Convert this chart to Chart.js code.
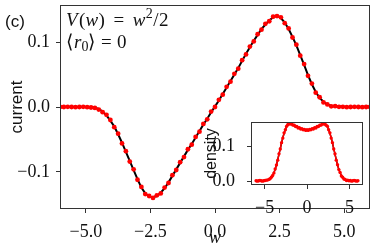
<!DOCTYPE html>
<html>
<head>
<meta charset="utf-8">
<script src="https://cdn.jsdelivr.net/npm/chart.js@4.4.0/dist/chart.umd.min.js"></script>
<style>
  body { margin: 0; background: #fff; }
  #quadro { position: relative; width: 374px; height: 249px; }
  #principal { position: absolute; left: 0; top: 0; }
  #inset { position: absolute; left: 200px; top: 115px; }
</style>
</head>
<body>
<div id="quadro">
  <canvas id="principal" width="374" height="249"></canvas>
  <canvas id="inset" width="172" height="100"></canvas>
</div>
<script>
// posicoes w (mesma grade para corrente e densidade)
const wGrade = [
  -6, -5.85, -5.7, -5.55, -5.4, -5.25, -5.1, -4.95, -4.8, -4.65,
  -4.5, -4.35, -4.2, -4.05, -3.9, -3.75, -3.6, -3.45, -3.3, -3.15,
  -3, -2.85, -2.7, -2.55, -2.4, -2.25, -2.1, -1.95, -1.8, -1.65,
  -1.5, -1.35, -1.2, -1.05, -0.9, -0.75, -0.6, -0.45, -0.3, -0.15,
  0, 0.15, 0.3, 0.45, 0.6, 0.75, 0.9, 1.05, 1.2, 1.35,
  1.5, 1.65, 1.8, 1.95, 2.1, 2.25, 2.4, 2.55, 2.7, 2.85,
  3, 3.15, 3.3, 3.45, 3.6, 3.75, 3.9, 4.05, 4.2, 4.35,
  4.5, 4.65, 4.8, 4.95, 5.1, 5.25, 5.4, 5.55, 5.7, 5.85, 6
];

// corrente: curva teorica (linha preta)
const correnteTeoria = [
  0, 0, 0, 0, 0, 0, 0, 0, -0.0005, -0.001,
  -0.003, -0.007, -0.013, -0.021, -0.030, -0.042, -0.055, -0.069, -0.083, -0.097,
  -0.111, -0.124, -0.133, -0.138, -0.139, -0.137, -0.132, -0.125, -0.116, -0.106,
  -0.096, -0.086, -0.076, -0.066, -0.057, -0.047, -0.037, -0.027, -0.018, -0.008,
  0.001, 0.010, 0.020, 0.030, 0.040, 0.050, 0.060, 0.071, 0.082, 0.092,
  0.102, 0.111, 0.120, 0.127, 0.133, 0.138, 0.141, 0.137, 0.130, 0.120,
  0.108, 0.095, 0.080, 0.065, 0.049, 0.035, 0.023, 0.014, 0.008, 0.004,
  0.002, 0.001, 0.0005, 0, 0, 0, 0, 0, 0, 0, 0
];

// corrente: simulacao (pontos vermelhos)
const correnteSimul = [
  0, 0, 0.0003, 0, -0.0002, 0, 0.0002, -0.0003, -0.0008, -0.0015,
  -0.004, -0.008, -0.012, -0.020, -0.031, -0.041, -0.056, -0.068, -0.084, -0.096,
  -0.112, -0.123, -0.134, -0.137, -0.140, -0.136, -0.133, -0.124, -0.117, -0.105,
  -0.097, -0.085, -0.077, -0.065, -0.058, -0.046, -0.038, -0.026, -0.019, -0.007,
  0.000, 0.011, 0.019, 0.031, 0.039, 0.051, 0.059, 0.072, 0.081, 0.093,
  0.101, 0.112, 0.119, 0.128, 0.132, 0.139, 0.140, 0.138, 0.129, 0.121,
  0.107, 0.096, 0.079, 0.066, 0.048, 0.036, 0.022, 0.015, 0.007, 0.004,
  0.001, 0.0012, 0.0003, 0.0002, -0.0002, 0, 0.0003, 0, -0.0002, 0, 0
];

// densidade (inset)
const densidadeTeoria = [
  0.001, 0.001, 0.001, 0.001, 0.001, 0.001, 0.001, 0.002, 0.002, 0.003,
  0.004, 0.007, 0.010, 0.016, 0.024, 0.034, 0.046, 0.061, 0.077, 0.093,
  0.109, 0.124, 0.137, 0.148, 0.156, 0.161, 0.163, 0.164, 0.163, 0.161,
  0.159, 0.157, 0.155, 0.153, 0.152, 0.150, 0.149, 0.148, 0.147, 0.146,
  0.146, 0.146, 0.147, 0.148, 0.149, 0.150, 0.152, 0.153, 0.155, 0.157,
  0.159, 0.161, 0.163, 0.164, 0.163, 0.161, 0.156, 0.148, 0.137, 0.124,
  0.109, 0.093, 0.077, 0.061, 0.046, 0.034, 0.024, 0.016, 0.010, 0.007,
  0.004, 0.003, 0.002, 0.002, 0.001, 0.001, 0.001, 0.001, 0.001, 0.001, 0.001
];
const densidadeSimul = [
  0.001, 0.000, 0.001, 0.002, 0.001, 0.000, 0.001, 0.002, 0.003, 0.003,
  0.005, 0.007, 0.011, 0.016, 0.023, 0.035, 0.046, 0.060, 0.078, 0.092,
  0.110, 0.123, 0.138, 0.147, 0.157, 0.162, 0.164, 0.163, 0.164, 0.160,
  0.160, 0.156, 0.156, 0.152, 0.153, 0.149, 0.150, 0.147, 0.148, 0.145,
  0.147, 0.145, 0.148, 0.147, 0.150, 0.149, 0.153, 0.152, 0.156, 0.156,
  0.160, 0.160, 0.164, 0.163, 0.164, 0.160, 0.157, 0.147, 0.138, 0.123,
  0.110, 0.092, 0.078, 0.060, 0.047, 0.033, 0.025, 0.015, 0.011, 0.006,
  0.005, 0.002, 0.003, 0.001, 0.002, 0.000, 0.001, 0.002, 0.001, 0.000, 0.001
];

const xTicks = [-5, -2.5, 0, 2.5, 5];
const yTicks = [-0.1, 0, 0.1];
const xTicksInset = [-5, 0, 5];
const yTicksInset = [0, 0.1];

const FONTE_TICK = { family: '"Liberation Serif", serif', size: 18 };
const COR_TEXTO = '#111';
const COR_EIXO = '#333';

function fmt(v, casas) {
  return (v < 0 ? '\u2212' : '') + Math.abs(v).toFixed(casas);
}

function pontos(ys) {
  return wGrade.map((w, i) => ({ x: w, y: ys[i] }));
}

function escreverMat(ctx, x, y, partes) {
  partes.forEach(p => {
    ctx.font = p.f;
    ctx.fillText(p.t, x, y + (p.dy || 0));
    x += ctx.measureText(p.t).width + (p.dx || 0);
  });
}

const moldura = {
  id: 'moldura',
  beforeDraw(chart, args, opts) {
    if (!opts.fundo) return;
    const a = chart.chartArea;
    chart.ctx.save();
    chart.ctx.fillStyle = '#fff';
    chart.ctx.fillRect(a.left, a.top, a.right - a.left, a.bottom - a.top);
    chart.ctx.restore();
  },
  afterDraw(chart) {
    const a = chart.chartArea;
    const ctx = chart.ctx;
    ctx.save();
    ctx.strokeStyle = COR_EIXO;
    ctx.lineWidth = 1;
    ctx.strokeRect(a.left + 0.5, a.top + 0.5, a.right - a.left - 1, a.bottom - a.top - 1);
    ctx.restore();
  }
};

const anotacoes = {
  id: 'anotacoes',
  afterDraw(chart) {
    const ctx = chart.ctx;
    const a = chart.chartArea;
    const IT = 'italic 19px "Liberation Serif"';
    const RM = '19px "Liberation Serif"';
    const PEQ = '14px "Liberation Serif"';
    ctx.save();
    ctx.fillStyle = COR_TEXTO;
    ctx.textBaseline = 'alphabetic';
    ctx.font = '17px "Liberation Sans"';
    ctx.fillText('(c)', 5, 26.5);
    escreverMat(ctx, a.left + 6, a.top + 21, [
      { t: 'V', f: IT, dx: 1.5 }, { t: '(', f: RM }, { t: 'w', f: IT, dx: 0.5 }, { t: ')', f: RM, dx: 8.5 },
      { t: '=', f: RM, dx: 8.5 }, { t: 'w', f: IT, dx: 0.5 }, { t: '2', f: PEQ, dy: -8, dx: 0.5 }, { t: '/', f: RM, dx: 0.5 }, { t: '2', f: RM }
    ]);
    escreverMat(ctx, a.left + 6, a.top + 42.5, [
      { t: '\u27E8', f: RM, dx: 1 }, { t: 'r', f: IT }, { t: '0', f: PEQ, dy: 3 }, { t: '\u27E9', f: RM, dx: 5.5 },
      { t: '=', f: RM, dx: 5.5 }, { t: '0', f: RM }
    ]);
    ctx.restore();
  }
};

// tamanho fixo do eixo, sem a folga automatica que o Chart.js reserva para os rotulos
function fixar(tam) {
  return s => {
    if (s.isHorizontal()) s.height = tam; else s.width = tam;
    s.paddingTop = 0; s.paddingBottom = 0; s.paddingLeft = 0; s.paddingRight = 0;
  };
}

function eixo(min, max, ticks, casas, pad, tam, extra) {
  return Object.assign({
    type: 'linear', min: min, max: max,
    afterBuildTicks: s => { s.ticks = ticks.map(v => ({ value: v })); },
    afterFit: fixar(tam),
    ticks: { font: FONTE_TICK, color: COR_TEXTO, maxRotation: 0, padding: pad, callback: v => fmt(v, casas) },
    grid: { drawOnChartArea: false, tickLength: 4, tickColor: COR_EIXO, tickWidth: 1 },
    border: { display: false }
  }, extra);
}

// grafico principal: corrente
new Chart(document.getElementById('principal'), {
  type: 'scatter',
  data: {
    datasets: [
      { label: 'simulacao', data: pontos(correnteSimul), pointRadius: 2.4, pointBackgroundColor: '#ff0000', pointBorderWidth: 0, showLine: false },
      { label: 'teoria', data: pontos(correnteTeoria), showLine: true, borderColor: '#000', borderWidth: 2, pointRadius: 0 }
    ]
  },
  options: {
    responsive: false,
    devicePixelRatio: 1,
    animation: false,
    layout: { padding: { left: 0, top: 5, right: 4, bottom: 0 } },
    plugins: { legend: { display: false }, tooltip: { enabled: false }, moldura: {} },
    scales: {
      x: eixo(-6, 6, xTicks, 1, 8.5, 40, {
        title: { display: true, text: 'w', color: COR_TEXTO, font: { family: '"Liberation Serif", serif', size: 18, style: 'italic' }, padding: { top: 0, bottom: 0 } }
      }),
      y: eixo(-0.157, 0.157, yTicks, 1, 6, 60, {
        title: { display: true, text: 'current', color: COR_TEXTO, font: { family: '"Liberation Sans", sans-serif', size: 17 }, padding: { top: 7, bottom: 0 } }
      })
    }
  },
  plugins: [moldura, anotacoes]
});
</script>
<script>
// inset: densidade
new Chart(document.getElementById('inset'), {
  type: 'scatter',
  data: {
    datasets: [
      { label: 'simulacao', data: pontos(densidadeSimul), pointRadius: 1.7, pointBackgroundColor: '#ff0000', pointBorderWidth: 0, showLine: true, borderColor: '#ff0000', borderWidth: 1.5 },
      { label: 'teoria', data: pontos(densidadeTeoria), showLine: true, borderColor: '#000', borderWidth: 1.5, pointRadius: 0 }
    ]
  },
  options: {
    responsive: false,
    devicePixelRatio: 1,
    animation: false,
    layout: { padding: { left: 0, top: 7, right: 9, bottom: 0 } },
    plugins: { legend: { display: false }, tooltip: { enabled: false }, moldura: { fundo: true } },
    scales: {
      x: eixo(-6.6, 6.6, xTicksInset, 0, 8, 30, {}),
      y: eixo(-0.011, 0.169, yTicksInset, 1, 12, 51, {
        title: { display: true, text: 'density', color: COR_TEXTO, font: { family: '"Liberation Sans", sans-serif', size: 16 }, padding: { top: 2, bottom: 0 } }
      })
    }
  },
  plugins: [moldura]
});
</script>
</body>
</html>
